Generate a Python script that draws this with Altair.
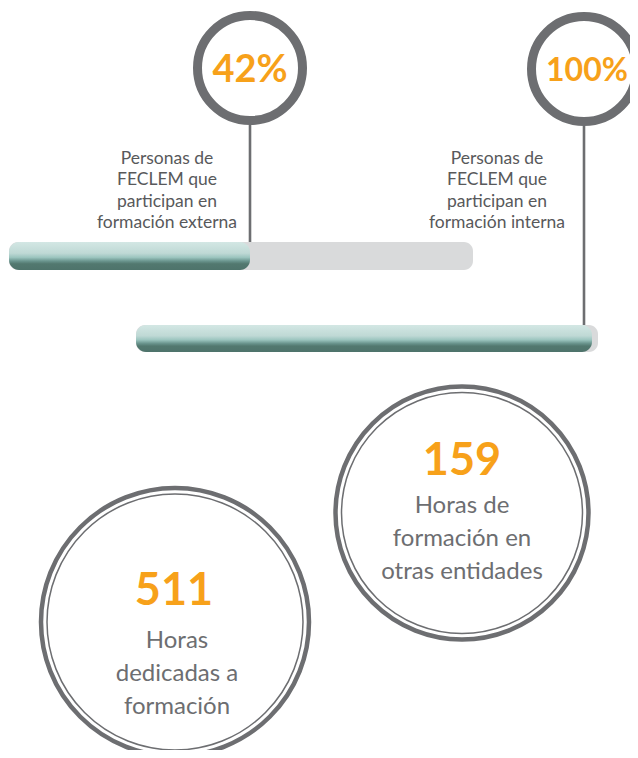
import altair as alt
import pandas as pd

# ---------------- data ----------------
pct_values = [42, 100]
pct_labels = [
    "Personas de\nFECLEM que\nparticipan en\nformación externa",
    "Personas de\nFECLEM que\nparticipan en\nformación interna",
]
hour_values = [159, 511]
hour_labels = [
    "Horas de\nformación en\notras entidades",
    "Horas\ndedicadas a\nformación",
]

# ---------------- layout (page pixel space) ----------------
bar_start = [9, 136]
bar_track_end = [473, 598]
bar_fill_end = [250, 592]
bar_top = [242, 325]
bar_bottom = [270, 352]

badge_x = [250, 584]
badge_y = [68, 69]
badge_text_x = [250, 587]
badge_text_y = [82, 81]
badge_font = [38, 32]
line_x = [250, 584]
line_top = [125, 126]
desc_x = [167, 497]
desc_y = [164, 164]

big_x = [462, 175]
big_y = [513, 622]
big_outer_d = [253, 268]
big_inner_d = [241, 256]
big_num_x = [462, 174]
big_num_y = [475, 605]
big_lab_x = [462, 177]
big_lab_y = [513, 648]

GRAY = "#6d6e71"
ORANGE = "#f7a11a"
FONT = "Lato"

bars = pd.DataFrame({
    "value": pct_values, "start": bar_start, "track_end": bar_track_end,
    "fill_end": bar_fill_end, "top": bar_top, "bottom": bar_bottom,
})
badges = pd.DataFrame({
    "value": pct_values, "label": pct_labels, "bx": badge_x, "by": badge_y,
    "tx": badge_text_x, "ty": badge_text_y, "fs": badge_font, "lx": line_x,
    "ltop": line_top, "lbottom": bar_top, "dx": desc_x, "dy": desc_y,
})
badges["pct"] = badges["value"].astype(str) + "%"
bigs = pd.DataFrame({
    "value": hour_values, "label": hour_labels, "cx": big_x, "cy": big_y,
    "outer": [d * d for d in big_outer_d], "inner": [d * d for d in big_inner_d],
    "nx": big_num_x, "ny": big_num_y, "lx": big_lab_x, "ly": big_lab_y,
})
bigs["num"] = bigs["value"].astype(str)

xs = alt.Scale(domain=[8, 630], nice=False, zero=False)
ys = alt.Scale(domain=[8, 750], nice=False, zero=False, reverse=True)


def X(f):
    return alt.X(f"{f}:Q", scale=xs, axis=None)


def Y(f):
    return alt.Y(f"{f}:Q", scale=ys, axis=None)


grad = alt.Gradient(
    gradient="linear", x1=0, x2=0, y1=0, y2=1,
    stops=[
        alt.GradientStop(color="#d3e7e4", offset=0),
        alt.GradientStop(color="#bfd9d5", offset=0.4),
        alt.GradientStop(color="#9cc5bf", offset=0.55),
        alt.GradientStop(color="#6a958e", offset=0.68),
        alt.GradientStop(color="#52786f", offset=0.78),
        alt.GradientStop(color="#4e736b", offset=1),
    ],
)

track = alt.Chart(bars).mark_rect(fill="#d9dadb", cornerRadius=9).encode(
    x=X("start"), x2="track_end", y=Y("top"), y2="bottom")
fill = alt.Chart(bars).mark_rect(fill=grad, cornerRadius=10).encode(
    x=X("start"), x2="fill_end", y=Y("top"), y2="bottom")

connector = alt.Chart(badges).mark_rule(color=GRAY, strokeWidth=2.6).encode(
    x=X("lx"), y=Y("ltop"), y2="lbottom")
ring = alt.Chart(badges).mark_point(
    shape="circle", filled=False, stroke=GRAY, strokeWidth=9, size=11025, opacity=1
).encode(x=X("bx"), y=Y("by"))
pct_text = alt.Chart(badges).mark_text(
    font=FONT, fontWeight="bold", color=ORANGE, align="center",
    baseline="alphabetic"
).encode(x=X("tx"), y=Y("ty"), text="pct:N",
         size=alt.Size("fs:Q", scale=None, legend=None))
desc = alt.Chart(badges).mark_text(
    font=FONT, fontSize=17.5, color="#58595b", align="center", baseline="alphabetic",
    lineBreak="\n", lineHeight=21.3
).encode(x=X("dx"), y=Y("dy"), text="label:N")

outer = alt.Chart(bigs).mark_point(
    shape="circle", filled=False, stroke=GRAY, strokeWidth=4.5, opacity=1
).encode(x=X("cx"), y=Y("cy"), size=alt.Size("outer:Q", scale=None, legend=None))
inner = alt.Chart(bigs).mark_point(
    shape="circle", filled=False, stroke=GRAY, strokeWidth=1.5, opacity=1
).encode(x=X("cx"), y=Y("cy"), size=alt.Size("inner:Q", scale=None, legend=None))
num = alt.Chart(bigs).mark_text(
    font=FONT, fontWeight="bold", fontSize=45, color=ORANGE, align="center",
    baseline="alphabetic"
).encode(x=X("nx"), y=Y("ny"), text="num:N")
lab = alt.Chart(bigs).mark_text(
    font=FONT, fontSize=24, color=GRAY, align="center", baseline="alphabetic",
    lineBreak="\n", lineHeight=33
).encode(x=X("lx"), y=Y("ly"), text="label:N")

chart = alt.layer(
    track, fill, connector, ring, pct_text, desc, outer, inner, num, lab
).properties(
    width=622, height=742, padding=0, autosize=alt.AutoSizeParams(type="none"),
    background="white",
).configure_view(stroke=None)

chart.save("out.html", embed_options={"renderer": "svg", "actions": False})
